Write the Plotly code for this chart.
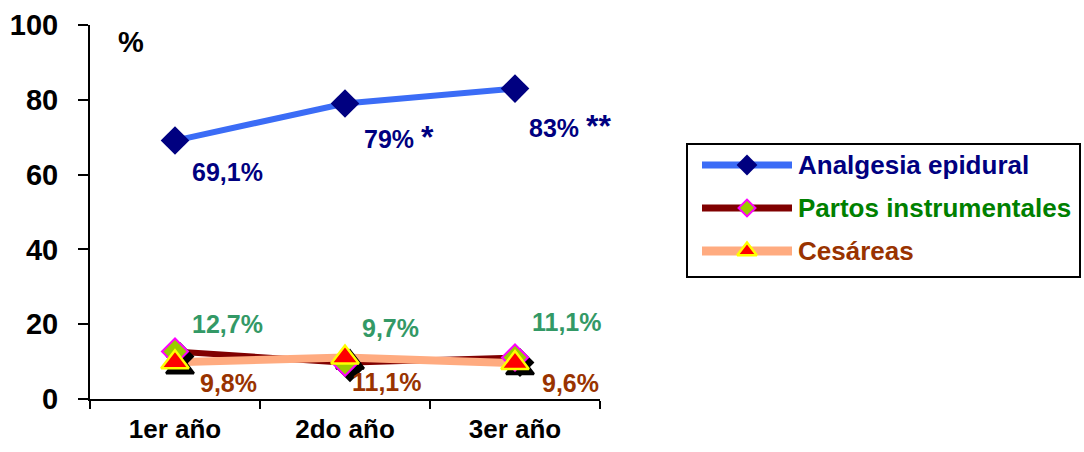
import plotly.graph_objects as go

W, H = 1084, 452

# ---- data ----
years = ["1er año", "2do año", "3er año"]
epidural = [69.1, 79, 83]
instrumentales = [12.7, 9.7, 11.1]
cesareas = [9.8, 11.1, 9.6]
epidural_text = ["69,1%", "79%", "83%"]
epidural_marks = ["", "*", "**"]
instrumentales_text = ["12,7%", "9,7%", "11,1%"]
cesareas_text = ["9,8%", "11,1%", "9,6%"]
y_ticks = [0, 20, 40, 60, 80, 100]
series_names = ["Analgesia epidural", "Partos instrumentales", "Cesáreas"]

# ---- styling ----
FONT = "Liberation Sans, Arial, sans-serif"
BLUE_LINE, NAVY = "#3b6cf6", "#000080"
DARK_RED, LIME, MAGENTA = "#800000", "#99cc00", "#ff00ff"
SALMON, RED, YELLOW = "#ffab80", "#ff0000", "#ffff00"
GREEN_LABEL, GREEN_LEGEND, BROWN = "#339966", "#008000", "#993300"

# plot area in pixels
X0, X1 = 90, 600
Y_BOTTOM, Y_TOP = 399, 25
dom_x = [X0 / W, X1 / W]
dom_y = [(H - Y_BOTTOM) / H, (H - Y_TOP) / H]
SH = 5  # shadow offset, px

fig = go.Figure()

# lines on the main axes
fig.add_trace(go.Scatter(x=years, y=epidural, mode="lines",
                         line=dict(color=BLUE_LINE, width=6), showlegend=False))
fig.add_trace(go.Scatter(x=years, y=instrumentales, mode="lines",
                         line=dict(color=DARK_RED, width=6), showlegend=False))
fig.add_trace(go.Scatter(x=years, y=cesareas, mode="lines",
                         line=dict(color=SALMON, width=8), showlegend=False))

# drop shadows of the small markers (shifted overlay axes)
fig.add_trace(go.Scatter(x=years, y=instrumentales, mode="markers", xaxis="x2", yaxis="y2",
                         marker=dict(symbol="diamond", size=20, color="black",
                                     line=dict(color="black", width=2)), showlegend=False))
fig.add_trace(go.Scatter(x=years, y=cesareas, mode="markers", xaxis="x2", yaxis="y2",
                         marker=dict(symbol="triangle-up", size=24, color="black",
                                     line=dict(color="black", width=2.5)), showlegend=False))

# markers
fig.add_trace(go.Scatter(x=years, y=epidural, mode="markers", xaxis="x3", yaxis="y3",
                         marker=dict(symbol="diamond", size=22, color=NAVY,
                                     line=dict(width=0)), showlegend=False))
fig.add_trace(go.Scatter(x=years, y=instrumentales, mode="markers", xaxis="x3", yaxis="y3",
                         marker=dict(symbol="diamond", size=20, color=LIME,
                                     line=dict(color=MAGENTA, width=2)), showlegend=False))
fig.add_trace(go.Scatter(x=years, y=cesareas, mode="markers", xaxis="x3", yaxis="y3",
                         marker=dict(symbol="triangle-up", size=24, color=RED,
                                     line=dict(color=YELLOW, width=2.5)), showlegend=False))

# ---- legend drawn in pixel space ----
LX0, LX1, LY0, LY1 = 687, 1080, 144, 277
rows = [165, 208, 251]
sample_x = [702, 792]
marker_x = 747
legend_styles = [
    dict(line=dict(color=BLUE_LINE, width=7), sym="diamond", size=16, fill=NAVY,
         edge=dict(width=0), text=NAVY),
    dict(line=dict(color=DARK_RED, width=7), sym="diamond", size=13, fill=LIME,
         edge=dict(color=MAGENTA, width=2), text=GREEN_LEGEND),
    dict(line=dict(color=SALMON, width=9), sym="triangle-up", size=17, fill=RED,
         edge=dict(color=YELLOW, width=2.5), text=BROWN),
]
shapes = [dict(type="rect", xref="x4", yref="y4", x0=LX0, x1=LX1, y0=LY0, y1=LY1,
               line=dict(color="black", width=2), fillcolor="white", layer="below")]
annotations = []
for name, yy, st in zip(series_names, rows, legend_styles):
    fig.add_trace(go.Scatter(x=sample_x, y=[yy, yy], mode="lines", xaxis="x4", yaxis="y4",
                             line=st["line"], showlegend=False, hoverinfo="skip"))
    fig.add_trace(go.Scatter(x=[marker_x], y=[yy], mode="markers", xaxis="x4", yaxis="y4",
                             marker=dict(symbol=st["sym"], size=st["size"], color=st["fill"],
                                         line=st["edge"]),
                             showlegend=False, hoverinfo="skip"))
    annotations.append(dict(xref="x4", yref="y4", x=796, y=yy, text=f"<b>{name}</b>",
                            showarrow=False, xanchor="left", yanchor="middle",
                            font=dict(family=FONT, size=26, color=st["text"])))

# ---- value labels ----
label_font = dict(family=FONT, size=25)
epi_labels = [t + (f" <span style='font-size:32px'>{m}</span>" if m else "")
              for t, m in zip(epidural_text, epidural_marks)]
epi_shift = [(15, -31), (17, -33), (12, -37)]
ins_shift = [(15, 28), (15, 35), (15, 35)]
ces_shift = [(23, -21), (5, -25), (25, -20)]
for vals, texts, shifts, col in [(epidural, epi_labels, epi_shift, NAVY),
                                 (instrumentales, instrumentales_text, ins_shift, GREEN_LABEL),
                                 (cesareas, cesareas_text, ces_shift, BROWN)]:
    for xv, yv, t, (dx, dy) in zip(years, vals, texts, shifts):
        annotations.append(dict(xref="x", yref="y", x=xv, y=yv, text=f"<b>{t}</b>",
                                showarrow=False, xanchor="left", yanchor="middle",
                                xshift=dx, yshift=dy, font=dict(color=col, **label_font)))

annotations.append(dict(xref="paper", yref="paper", x=116 / W, y=1 - 42 / H, text="<b>%</b>",
                        showarrow=False, xanchor="left", yanchor="middle",
                        font=dict(family=FONT, size=29, color="black")))

hidden = dict(visible=False, showgrid=False, zeroline=False, fixedrange=True, automargin=False)
cat_range = [-0.5, 2.5]
val_range = [0, 100]

fig.update_layout(
    width=W, height=H,
    margin=dict(l=0, r=0, t=0, b=0, pad=0),
    paper_bgcolor="white", plot_bgcolor="rgba(0,0,0,0)",
    showlegend=False,
    xaxis=dict(domain=dom_x, range=cat_range, type="category", categoryorder="array",
               categoryarray=years, showgrid=False, zeroline=False, automargin=False,
               showline=True, linecolor="black", linewidth=2,
               ticks="outside", ticklen=8, tickwidth=2, tickcolor="black",
               tickson="boundaries", ticklabelstandoff=6,
               tickfont=dict(family=FONT, size=26, color="black", weight="bold")),
    yaxis=dict(domain=dom_y, range=val_range, tickvals=y_ticks, showgrid=False, zeroline=False,
               automargin=False,
               showline=True, linecolor="black", linewidth=2,
               ticks="outside", ticklen=10, tickwidth=2, tickcolor="black",
               ticklabelstandoff=14,
               tickfont=dict(family=FONT, size=29, color="black", weight="bold")),
    xaxis2=dict(hidden, domain=[(X0 + SH) / W, (X1 + SH) / W], range=cat_range, type="category",
                categoryarray=years, categoryorder="array", anchor="y2"),
    yaxis2=dict(hidden, domain=[(H - Y_BOTTOM - SH) / H, (H - Y_TOP - SH) / H], range=val_range,
                anchor="x2"),
    xaxis3=dict(hidden, domain=dom_x, range=cat_range, type="category",
                categoryarray=years, categoryorder="array", anchor="y3"),
    yaxis3=dict(hidden, domain=dom_y, range=val_range, anchor="x3"),
    xaxis4=dict(hidden, domain=[0, 1], range=[0, W], anchor="y4"),
    yaxis4=dict(hidden, domain=[0, 1], range=[H, 0], anchor="x4"),
    shapes=shapes,
    annotations=annotations,
)

fig.write_html("out.html")
